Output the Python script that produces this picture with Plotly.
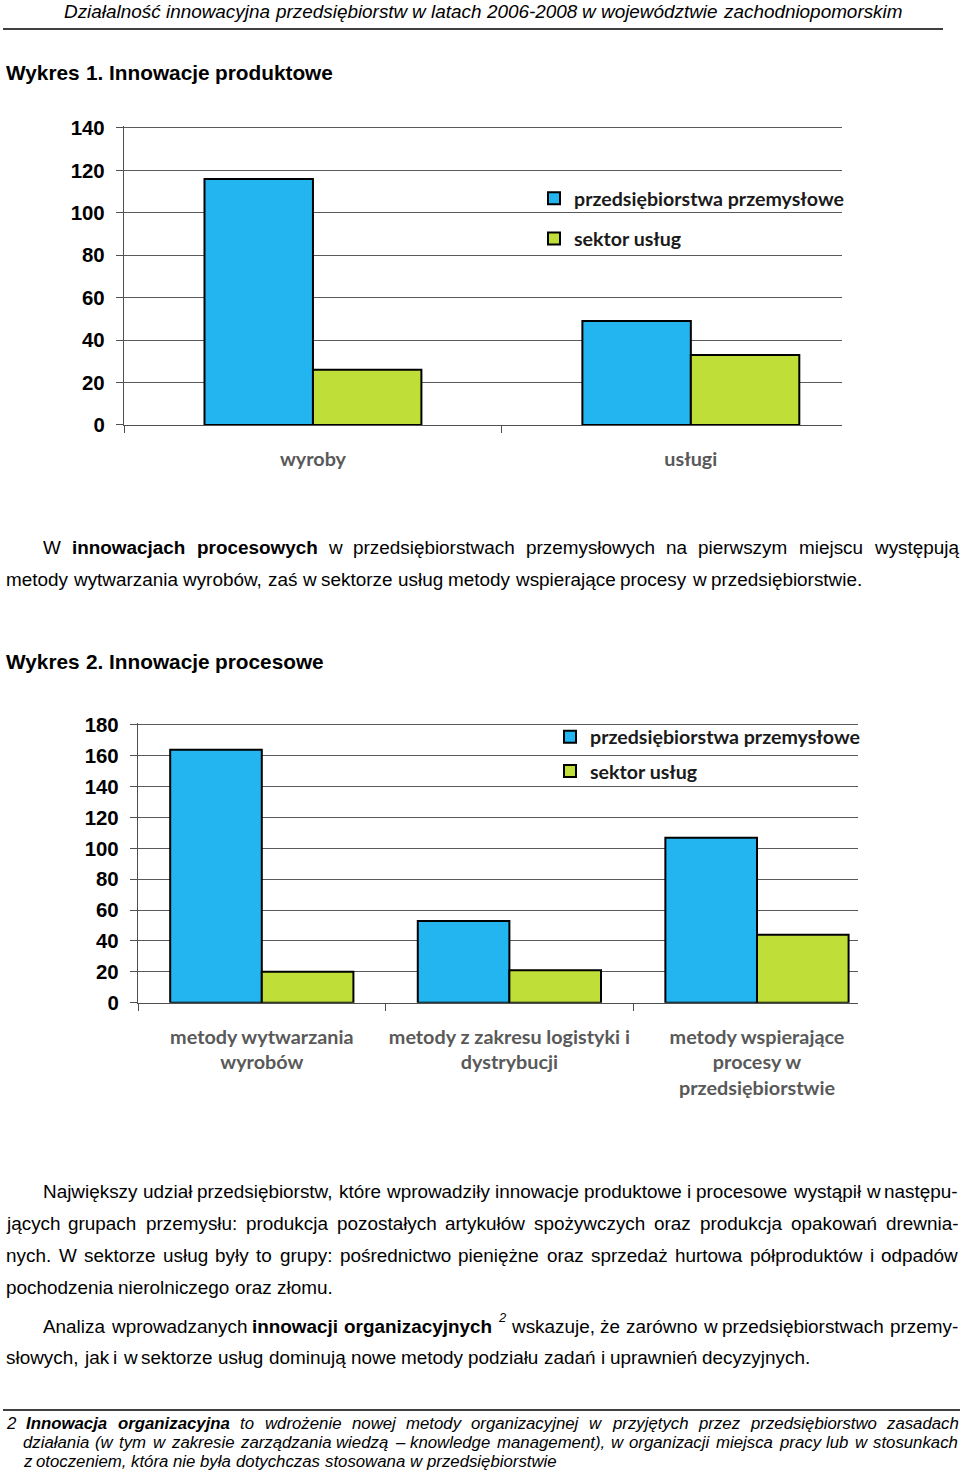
import plotly.graph_objects as go

W, H = 960, 1472

# ---------------- data ----------------
series_names = ["przedsiębiorstwa przemysłowe", "sektor usług"]

c1_categories = ["wyroby", "usługi"]
c1_industry = [116, 49]
c1_services = [26, 33]
c1_yticks = [0, 20, 40, 60, 80, 100, 120, 140]

c2_categories = ["metody wytwarzania<br>wyrobów",
                 "metody z zakresu logistyki i<br>dystrybucji",
                 "metody wspierające<br>procesy w<br>przedsiębiorstwie"]
c2_industry = [164, 53, 107]
c2_services = [20, 21, 44]
c2_yticks = [0, 20, 40, 60, 80, 100, 120, 140, 160, 180]

BLUE = "#22B5F0"
GREEN = "#BFDF38"
GRID = "#5a5a5a"
AX = "#505050"
LABEL_GRAY = "#595959"

def px(x):
    return x / W

def py(y):
    return 1 - y / H

fig = go.Figure()

# chart 1
bw1 = 0.287
fig.add_trace(go.Bar(x=c1_categories, y=c1_industry, name=series_names[0],
                     width=bw1, offset=-bw1, marker=dict(color=BLUE, line=dict(color="black", width=2)),
                     xaxis="x", yaxis="y", legend="legend", legendgroup="a1"))
fig.add_trace(go.Bar(x=c1_categories, y=c1_services, name=series_names[1],
                     width=bw1, offset=0, marker=dict(color=GREEN, line=dict(color="black", width=2)),
                     xaxis="x", yaxis="y", legend="legend", legendgroup="b1"))
# chart 2
bw2 = 0.37
fig.add_trace(go.Bar(x=c2_categories, y=c2_industry, name=series_names[0],
                     width=bw2, offset=-bw2, marker=dict(color=BLUE, line=dict(color="black", width=2)),
                     xaxis="x2", yaxis="y2", legend="legend2", legendgroup="a2"))
fig.add_trace(go.Bar(x=c2_categories, y=c2_services, name=series_names[1],
                     width=bw2, offset=0, marker=dict(color=GREEN, line=dict(color="black", width=2)),
                     xaxis="x2", yaxis="y2", legend="legend2", legendgroup="b2"))

tickfont_y = dict(family="Liberation Sans", size=20.4, color="black", weight="bold")
tickfont_x = dict(family="Lato", size=19.8, color=LABEL_GRAY, weight="bold")

def yax(domain, rng, ticks, anchor):
    return dict(domain=domain, range=rng, tickmode="array", tickvals=ticks, anchor=anchor,
                ticks="outside", ticklen=7, tickcolor=AX, tickwidth=1.4,
                showline=True, linecolor=AX, linewidth=1.4, automargin=False,
                showgrid=True, gridcolor=GRID, gridwidth=1.4, zeroline=False,
                tickfont=tickfont_y, ticklabelstandoff=7, fixedrange=True)

def xax(domain, rng, anchor):
    return dict(domain=domain, range=rng, type="category", anchor=anchor,
                tickson="boundaries", ticks="outside", ticklen=7, tickcolor=AX, tickwidth=1.4,
                showline=True, linecolor=AX, linewidth=1.4, showgrid=False, automargin=False,
                tickangle=0, tickfont=tickfont_x, ticklabelstandoff=16, fixedrange=True)

# chart 1 geometry: 0 at y=425, 140 at y=128
k1 = (425 - 128) / 140.0
top1 = 141
# chart 2 geometry: 0 at y=1002.7, 180 at y=725
k2 = (1002.7 - 725) / 180.0
top2 = 181.5

legfont = dict(family="Lato", size=19.6, color="#1a1a1a", weight="bold")
fig.update_layout(
    template="none",
    width=W, height=H, autosize=False,
    margin=dict(l=0, r=0, t=0, b=0, pad=0, autoexpand=False),
    paper_bgcolor="white", plot_bgcolor="white",
    barmode="overlay",
    showlegend=True,
    xaxis=xax([px(124), px(842)], [-0.5, 1.4], "y"),
    yaxis=yax([py(425), py(425 - top1 * k1)], [0, top1], c1_yticks, "x"),
    xaxis2=xax([px(138), px(858)], [-0.5, 2.408], "y2"),
    yaxis2=yax([py(1002.7), py(1002.7 - top2 * k2)], [0, top2], c2_yticks, "x2"),
    legend=dict(x=px(534), y=py(179), xanchor="left", yanchor="top", font=legfont,
                bgcolor="rgba(0,0,0,0)", traceorder="grouped", tracegroupgap=11.7),
    legend2=dict(x=px(550), y=py(717.6), xanchor="left", yanchor="top", font=legfont,
                 bgcolor="rgba(0,0,0,0)", traceorder="grouped", tracegroupgap=5.7),
)

# ---------------- text ----------------
REG = {' ': 278, '!': 278, '(': 333, ')': 333, ',': 278, '-': 333, '.': 278, ':': 278, '–': 556,
       'A': 667, 'B': 667, 'C': 722, 'D': 722, 'E': 667, 'F': 611, 'G': 778, 'H': 722, 'I': 278,
       'J': 500, 'K': 667, 'L': 556, 'M': 833, 'N': 722, 'O': 778, 'P': 667, 'R': 722, 'S': 667,
       'T': 611, 'U': 722, 'W': 944, 'Z': 611,
       'a': 556, 'b': 556, 'c': 500, 'd': 556, 'e': 556, 'f': 278, 'g': 556, 'h': 556, 'i': 222,
       'j': 222, 'k': 500, 'l': 222, 'm': 833, 'n': 556, 'o': 556, 'p': 556, 'q': 556, 'r': 333,
       's': 500, 't': 278, 'u': 556, 'v': 500, 'w': 722, 'x': 500, 'y': 500, 'z': 500,
       'ą': 556, 'ć': 500, 'ę': 556, 'ł': 222, 'ń': 556, 'ó': 556, 'ś': 500, 'ź': 500, 'ż': 500}
BOLD = {' ': 278, ',': 278, '.': 278, '-': 333, ':': 333, '–': 556,
        'A': 722, 'I': 278, 'W': 944, 'N': 722,
        'a': 556, 'b': 611, 'c': 556, 'd': 611, 'e': 556, 'f': 333, 'g': 611, 'h': 611, 'i': 278,
        'j': 278, 'k': 556, 'l': 278, 'm': 889, 'n': 611, 'o': 611, 'p': 611, 'q': 611, 'r': 389,
        's': 556, 't': 333, 'u': 611, 'v': 556, 'w': 778, 'x': 556, 'y': 556, 'z': 500,
        'ą': 556, 'ć': 556, 'ę': 556, 'ł': 278, 'ń': 611, 'ó': 611, 'ś': 556, 'ź': 500, 'ż': 500}
for d in '0123456789':
    REG[d] = 556
    BOLD[d] = 556


def width(s, bold, size):
    t = BOLD if bold else REG
    return sum(t.get(ch, 556) for ch in s) * size / 1000.0


def tokens(text, style):
    return [(w, style) for w in text.split()]


def place_line(toks, y, x0, size, x1=None, italic=False):
    ws = []
    for w, st in toks:
        s = 13 if st == "sup" else size
        ws.append(width(w, st == "b", s))
    space = REG[' '] * size / 1000.0
    if x1 is not None and len(toks) > 1:
        gap = (x1 - x0 - sum(ws)) / (len(toks) - 1)
    else:
        gap = space
    x = x0
    for (w, st), wd in zip(toks, ws):
        txt = w
        s = size
        yy = y
        if st == "b":
            txt = "<b>" + txt + "</b>"
        if st == "sup":
            s = 13
            yy = y - 9
            txt = "<i>" + txt + "</i>"
        elif italic:
            txt = "<i>" + txt + "</i>"
        fig.add_annotation(x=px(x), y=py(yy), xref="paper", yref="paper",
                           xanchor="left", yanchor="middle", showarrow=False,
                           text=txt, borderpad=0,
                           font=dict(family="Liberation Sans", size=s, color="black"))
        x += wd + gap


BODY = 18.9
FOOT = 16.8

header = "Działalność innowacyjna przedsiębiorstw w latach 2006-2008 w województwie zachodniopomorskim"
place_line(tokens(header, "r"), 11, 63, BODY, italic=True)

place_line(tokens("Wykres 1. Innowacje produktowe", "b"), 73, 5, 20.8)
place_line(tokens("Wykres 2. Innowacje procesowe", "b"), 661, 5, 20.8)

p1l1 = tokens("W", "r") + tokens("innowacjach procesowych", "b") + \
    tokens("w przedsiębiorstwach przemysłowych na pierwszym miejscu występują", "r")
place_line(p1l1, 548, 42, BODY, 957)
place_line(tokens("metody wytwarzania wyrobów, zaś w sektorze usług metody wspierające procesy w przedsiębiorstwie.", "r"),
           579, 5, BODY)

place_line(tokens("Największy udział przedsiębiorstw, które wprowadziły innowacje produktowe i procesowe wystąpił w następu-", "r"),
           1191, 42, BODY, 957)
place_line(tokens("jących grupach przemysłu: produkcja pozostałych artykułów spożywczych oraz produkcja opakowań drewnia-", "r"),
           1223, 5, BODY, 957)
place_line(tokens("nych. W sektorze usług były to grupy: pośrednictwo pieniężne oraz sprzedaż hurtowa półproduktów i odpadów", "r"),
           1255, 5, BODY, 957)
place_line(tokens("pochodzenia nierolniczego oraz złomu.", "r"), 1287, 5, BODY)

p3l1 = tokens("Analiza wprowadzanych", "r") + tokens("innowacji organizacyjnych", "b") + [("2", "sup")] + \
    tokens("wskazuje, że zarówno w przedsiębiorstwach przemy-", "r")
place_line(p3l1, 1326, 42, BODY, 957)
place_line(tokens("słowych, jak i w sektorze usług dominują nowe metody podziału zadań i uprawnień decyzyjnych.", "r"),
           1357, 5, BODY)

f1 = tokens("2", "r") + tokens("Innowacja organizacyjna", "b") + \
    tokens("to wdrożenie nowej metody organizacyjnej w przyjętych przez przedsiębiorstwo zasadach", "r")
place_line(f1, 1423, 5, FOOT, 957, italic=True)
place_line(tokens("działania (w tym w zakresie zarządzania wiedzą – knowledge management), w organizacji miejsca pracy lub w stosunkach", "r"),
           1442, 22, FOOT, 957, italic=True)
place_line(tokens("z otoczeniem, która nie była dotychczas stosowana w przedsiębiorstwie", "r"),
           1461, 22, FOOT, italic=True)

# rules
fig.add_shape(type="line", xref="paper", yref="paper", x0=px(3), x1=px(943), y0=py(29), y1=py(29),
              line=dict(color="black", width=1.6))
fig.add_shape(type="line", xref="paper", yref="paper", x0=px(3), x1=px(960), y0=py(1410), y1=py(1410),
              line=dict(color="black", width=1.6))

fig.write_html("out.html", config={"displayModeBar": False, "responsive": False},
               post_script="document.body.style.margin='0';document.body.style.overflow='hidden';")
